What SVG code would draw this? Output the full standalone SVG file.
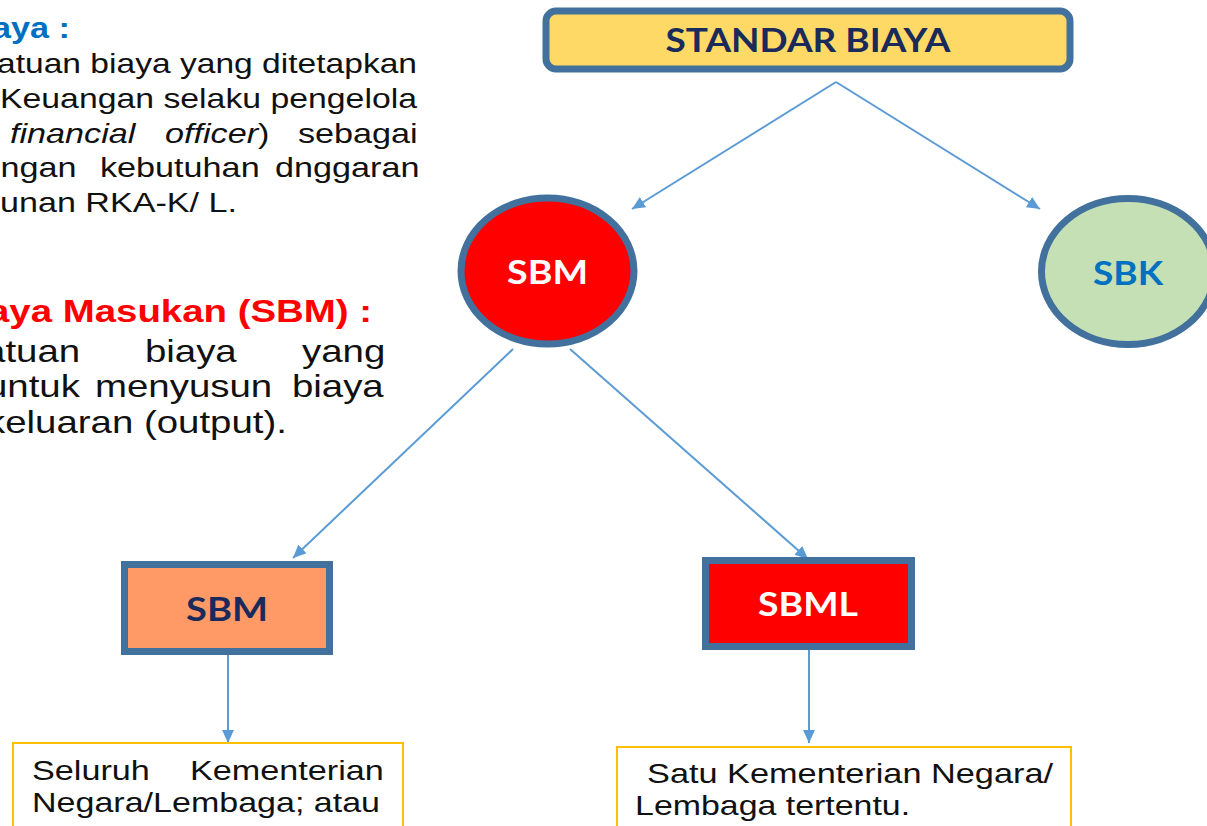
<svg xmlns="http://www.w3.org/2000/svg" width="1207" height="826" viewBox="0 0 1207 826">
<style>
.body{font-family:"Liberation Sans",Arial,sans-serif;font-size:28.5px;fill:#111;}
.b32{font-size:32px;}
.head{font-family:"Liberation Sans",Arial,sans-serif;font-weight:bold;}
.lbl{font-family:Lato,"Open Sans",sans-serif;font-weight:bold;font-size:33px;text-anchor:middle;}
.shape{stroke:#41719C;stroke-width:7;}
.conn{stroke:#5B9BD5;stroke-width:2;fill:none;}
.note{fill:#fff;stroke:#FFC000;stroke-width:2;}
</style>
<defs>
<marker id="arr" markerUnits="userSpaceOnUse" markerWidth="14" markerHeight="12" refX="13" refY="6" orient="auto">
<path d="M0,0 L13,6 L0,12 Z" fill="#5B9BD5"/>
</marker>
</defs>
<rect width="1207" height="826" fill="#fff"/>

<g id="text-left" transform="scale(1.2 1)">
<text class="head" x="-6.7" y="38" font-size="30" fill="#0070C0" textLength="65" lengthAdjust="spacingAndGlyphs">aya :</text>
<text class="body" x="-2.5" y="73" textLength="350" lengthAdjust="spacingAndGlyphs">atuan biaya yang ditetapkan</text>
<text class="body" x="0" y="108" textLength="347.5" lengthAdjust="spacingAndGlyphs">Keuangan selaku pengelola</text>
<text class="body" y="143"><tspan x="8.3" font-style="italic">financial</tspan><tspan x="137.5" font-style="italic">officer</tspan><tspan>)</tspan><tspan x="248.3">sebagai</tspan></text>
<text class="body" y="177"><tspan x="-15.4">ungan</tspan><tspan x="83.3">kebutuhan</tspan><tspan x="229.2">dnggaran</tspan></text>
<text class="body" x="0" y="212" textLength="197.5" lengthAdjust="spacingAndGlyphs">unan RKA-K/ L.</text>

<text class="head" x="-10" y="322" font-size="32" fill="#FF0000" textLength="320" lengthAdjust="spacingAndGlyphs">aya Masukan (SBM) :</text>
<text class="body b32" y="362"><tspan x="-13.3">atuan</tspan><tspan x="120.8">biaya</tspan><tspan x="251.7">yang</tspan></text>
<text class="body b32" y="397"><tspan x="-11.7">untuk</tspan><tspan x="79.2">menyusun</tspan><tspan x="243.3">biaya</tspan></text>
<text class="body b32" x="-11.7" y="433" textLength="250.8" lengthAdjust="spacingAndGlyphs">keluaran (output).</text>
</g>

<g id="connectors">
<line class="conn" x1="836" y1="82" x2="632" y2="209" marker-end="url(#arr)"/>
<line class="conn" x1="836" y1="82" x2="1040" y2="209" marker-end="url(#arr)"/>
<line class="conn" x1="513" y1="349" x2="293" y2="558" marker-end="url(#arr)"/>
<line class="conn" x1="570" y1="349" x2="808" y2="559" marker-end="url(#arr)"/>
<line class="conn" x1="228" y1="655" x2="228" y2="743" marker-end="url(#arr)"/>
<line class="conn" x1="809" y1="650" x2="809" y2="743" marker-end="url(#arr)"/>
</g>

<g id="standar-biaya">
<rect class="shape" x="546" y="11" width="524" height="58" rx="10" fill="#FFD966" stroke-width="6"/>
<text class="lbl" x="808" y="52" fill="#1A2A5A" textLength="285" lengthAdjust="spacingAndGlyphs">STANDAR BIAYA</text>
</g>

<g id="sbm-circle">
<ellipse class="shape" cx="547.5" cy="271" rx="86.5" ry="73" fill="#FF0000" stroke-width="6"/>
<text class="lbl" x="547.5" y="284" fill="#fff" textLength="81" lengthAdjust="spacingAndGlyphs">SBM</text>
</g>

<g id="sbk-circle">
<ellipse class="shape" cx="1128" cy="271.5" rx="86.5" ry="73" fill="#C5E0B4" stroke-width="6"/>
<text class="lbl" x="1128" y="285" fill="#0070C0" textLength="70" lengthAdjust="spacingAndGlyphs">SBK</text>
</g>

<g id="sbm-rect">
<rect class="shape" x="124.5" y="564.5" width="205" height="87" fill="#FF9966"/>
<text class="lbl" x="227" y="621" fill="#1A2A5A" textLength="82" lengthAdjust="spacingAndGlyphs">SBM</text>
</g>

<g id="sbml-rect">
<rect class="shape" x="705.5" y="560.5" width="206" height="86" fill="#FF0000"/>
<text class="lbl" x="808" y="616" fill="#fff" textLength="100" lengthAdjust="spacingAndGlyphs">SBML</text>
</g>

<g id="note-left">
<rect class="note" x="13" y="743" width="390" height="100"/>
<g transform="scale(1.2 1)">
<text class="body" y="780"><tspan x="26.7">Seluruh</tspan><tspan x="158.3">Kementerian</tspan></text>
<text class="body" x="26.7" y="812" textLength="290" lengthAdjust="spacingAndGlyphs">Negara/Lembaga; atau</text>
</g>
</g>

<g id="note-right">
<rect class="note" x="617" y="747" width="454" height="100"/>
<g transform="scale(1.2 1)">
<text class="body" x="539.2" y="783" textLength="338.3" lengthAdjust="spacingAndGlyphs">Satu Kementerian Negara/</text>
<text class="body" x="529.2" y="815" textLength="229.2" lengthAdjust="spacingAndGlyphs">Lembaga tertentu.</text>
</g>
</g>
</svg>
